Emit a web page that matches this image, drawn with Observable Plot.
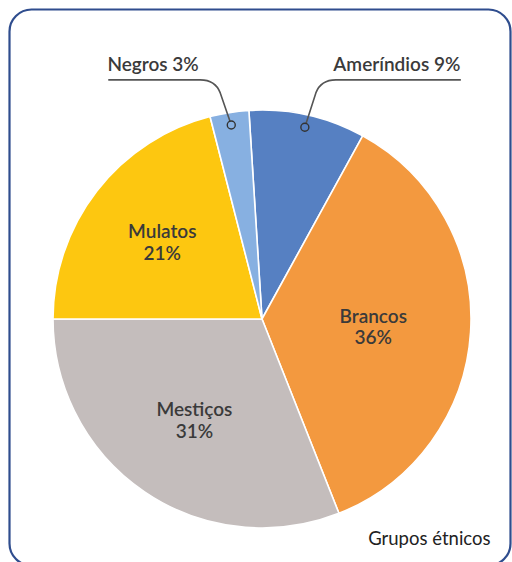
<!DOCTYPE html>
<html><head><meta charset="utf-8">
<script src="https://cdn.jsdelivr.net/npm/d3@7"></script>
<script src="https://cdn.jsdelivr.net/npm/@observablehq/plot@0.6"></script>
<style>
html,body{margin:0;padding:0;background:#fff;}
#chart svg{display:block;}
</style></head><body><div id="chart"></div>
<script>
// ---- data ----
const groups = ["Ameríndios", "Brancos", "Mestiços", "Mulatos", "Negros"];
const shares = [9, 36, 31, 21, 3];
const colors = ["#5680c2", "#f3993f", "#c4bdbc", "#fdc710", "#87b0e1"];
const insideLabels = ["Brancos", "Mestiços", "Mulatos"];
const calloutLeft = ["Negros"];
const calloutRight = ["Ameríndios"];
const caption = "Grupos étnicos";

// ---- layout constants ----
const W = 512, H = 562;
const startAngle = -3.6 * Math.PI / 180;
const labelRadius = {"Brancos": 0.531, "Mestiços": 0.58, "Mulatos": 0.607};
const dotRadius = 0.94;
const leaderLevel = 1.144;   // in pie radii above centre
const calloutTextLevel = 1.217;
const FONT = "Lato, 'Open Sans', sans-serif";
const TEXT = "#3a3a3a";

const data = groups.map((g, i) => ({group: g, share: shares[i], color: colors[i]}));
const arcs = d3.pie().sort(null).value(d => d.share)
  .startAngle(startAngle).endAngle(startAngle + 2 * Math.PI)(data);
const mid = a => (a.startAngle + a.endAngle) / 2;
const arcOf = name => arcs.find(a => a.data.group === name);

const insideData = insideLabels.map(n => {
  const a = arcOf(n), k = labelRadius[n], m = mid(a);
  return {x: k * Math.sin(m), y: k * Math.cos(m), text: `${n}\n${a.data.share}%`};
});
const calloutData = names => names.map(n => {
  const a = arcOf(n), m = mid(a);
  return {x: dotRadius * Math.sin(m), y: calloutTextLevel, text: `${n} ${a.data.share}%`};
});

function pieMark(index, scales, values, dims) {
  const cx = scales.x(0), cy = scales.y(0), r = scales.x(1) - scales.x(0);
  const g = d3.create("svg:g");
  // rounded card border
  g.append("rect")
    .attr("x", 9.5).attr("y", 9.5)
    .attr("width", dims.width - 11).attr("height", dims.height - 6)
    .attr("rx", 22).attr("ry", 22)
    .attr("fill", "none").attr("stroke", "#2f4d8e").attr("stroke-width", 2.2);
  const arc = d3.arc().innerRadius(0).outerRadius(r);
  g.append("g").attr("transform", `translate(${cx},${cy})`)
    .selectAll("path").data(arcs).join("path")
    .attr("d", arc)
    .attr("fill", d => d.data.color)
    .attr("stroke", "#fff").attr("stroke-width", 1.6).attr("stroke-linejoin", "round");
  // leaders
  const ly = cy - leaderLevel * r;
  const leaders = [...calloutLeft.map(n => [n, -1, 123]), ...calloutRight.map(n => [n, 1, 156])];
  for (const [n, side, len] of leaders) {
    const a = arcOf(n), m = mid(a);
    const px = cx + dotRadius * r * Math.sin(m), py = cy - dotRadius * r * Math.cos(m);
    const bend = px + side * 31;
    const far = side < 0 ? px - len : px + len;
    const ex = px + side * 11, ey = ly + 13;
    const dx = px - ex, dy = py - ey, d = Math.hypot(dx, dy);
    const tx = px - dx / d * 4.2, ty = py - dy / d * 4.2;
    g.append("path")
      .attr("d", `M${far},${ly}H${bend}Q${px + side * 16},${ly} ${ex},${ey}L${tx},${ty}`)
      .attr("fill", "none").attr("stroke", "#555").attr("stroke-width", 1.6);
    g.append("circle").attr("cx", px).attr("cy", py).attr("r", 4)
      .attr("fill", "none").attr("stroke", "#333").attr("stroke-width", 1.4);
  }
  return g.node();
}

const plot = Plot.plot({
  width: W, height: H,
  margin: 0,
  x: {domain: [-1, 1], range: [53, 471], axis: null},
  y: {domain: [-1, 1], range: [528, 110], axis: null},
  style: {background: "#fff", fontFamily: FONT},
  marks: [
    pieMark,
    Plot.text(insideData, {x: "x", y: "y", text: "text", fontSize: 19, fontWeight: 600,
      fill: TEXT, lineHeight: 1.15, lineAnchor: "middle"}),
    Plot.text(calloutData(calloutLeft), {x: "x", y: "y", text: "text", dx: -33, textAnchor: "end",
      fontSize: 19, fontWeight: 600, fill: TEXT, lineAnchor: "middle"}),
    Plot.text(calloutData(calloutRight), {x: "x", y: "y", text: "text", dx: 28, textAnchor: "start",
      fontSize: 19, fontWeight: 600, fill: TEXT, lineAnchor: "middle"}),
    Plot.text([caption], {frameAnchor: "bottom-right", dx: -22, dy: -23, textAnchor: "end",
      lineAnchor: "middle", fontSize: 18.5, fill: "#222"})
  ]
});
document.getElementById("chart").append(plot);
</script>
</body></html>
